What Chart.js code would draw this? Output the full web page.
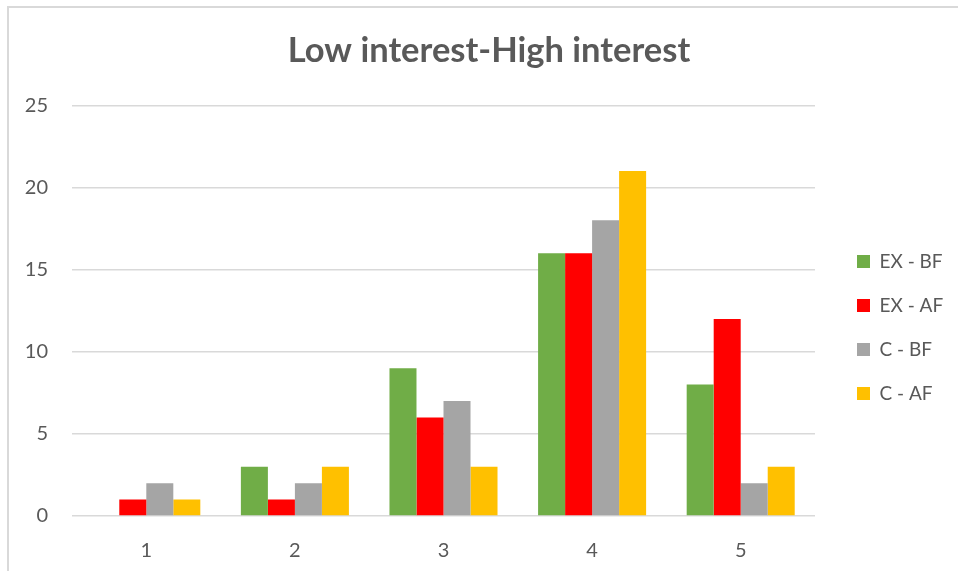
<!DOCTYPE html>
<html>
<head>
<meta charset="utf-8">
<title>Low interest-High interest</title>
<script src="https://cdn.jsdelivr.net/npm/chart.js@4"></script>
<style>
    body { margin: 0; background: #ffffff; overflow: hidden; }
    #frame {
        position: absolute; left: 7px; top: 6px;
        width: 1000px; height: 600px;
        border: 2px solid #d9d9d9;
    }
    #wrap { position: absolute; left: 0; top: 0; width: 958px; height: 571px; }
</style>
</head>
<body>
<div id="frame"></div>
<div id="wrap"><canvas id="interestChart"></canvas></div>
<script>
// answers on the 1-5 interest scale
const categories = ['1', '2', '3', '4', '5'];
const exBefore = [0, 3, 9, 16, 8];
const exAfter = [1, 1, 6, 16, 12];
const cBefore = [2, 2, 7, 18, 2];
const cAfter = [1, 3, 3, 21, 3];
const yTicks = [0, 5, 10, 15, 20, 25];

const textColor = '#595959';
const fontName = 'Lato, "Open Sans", sans-serif';

// legend sits a bit away from the plot, lower than the default centre
const legendPlacer = {
    id: 'legendPlacer',
    afterInit(chart) {
        const lg = chart.legend;
        const fit = lg.fit;
        lg.fit = function () {
            fit.call(this);
            this.width = 143;
        };
    },
    afterLayout(chart) {
        const lg = chart.legend;
        lg.left += 17; lg.right += 17;
        lg.top += 42; lg.bottom += 42;
    }
};

const ctx = document.getElementById('interestChart').getContext('2d');

new Chart(ctx, {
    type: 'bar',
    data: {
        labels: categories,
        datasets: [
            { label: 'EX - BF', data: exBefore, backgroundColor: '#70AD47' },
            { label: 'EX - AF', data: exAfter, backgroundColor: '#FF0000' },
            { label: 'C - BF', data: cBefore, backgroundColor: '#A5A5A5' },
            { label: 'C - AF', data: cAfter, backgroundColor: '#FFC000' }
        ]
    },
    options: {
        responsive: true,
        maintainAspectRatio: false,
        animation: false,
        datasets: {
            bar: { categoryPercentage: 0.727, barPercentage: 1.0 }
        },
        layout: {
            padding: { left: 20, right: 0, top: 0, bottom: 0 }
        },
        plugins: {
            title: {
                display: true,
                text: 'Low interest-High interest',
                color: textColor,
                font: { family: fontName, size: 34.5, weight: 'bold' },
                padding: { top: 30, bottom: 34 }
            },
            legend: {
                position: 'right',
                labels: {
                    color: textColor,
                    font: { family: fontName, size: 19 },
                    boxWidth: 13,
                    boxHeight: 13,
                    padding: 25
                }
            },
            tooltip: { enabled: false }
        },
        scales: {
            x: {
                grid: { display: false },
                border: { display: false },
                afterFit: axis => { axis.height = 55; },
                ticks: {
                    color: textColor,
                    font: { family: fontName, size: 20 },
                    padding: 15
                }
            },
            y: {
                min: 0,
                max: 25,
                afterBuildTicks: axis => {
                    axis.ticks = yTicks.map(v => ({ value: v }));
                },
                afterFit: axis => { axis.width = 52; },
                grid: { color: '#d9d9d9', lineWidth: 1.5, drawTicks: false },
                border: { display: false },
                ticks: {
                    color: textColor,
                    font: { family: fontName, size: 20 },
                    padding: 24
                }
            }
        }
    },
    plugins: [legendPlacer]
});
</script>
</body>
</html>
